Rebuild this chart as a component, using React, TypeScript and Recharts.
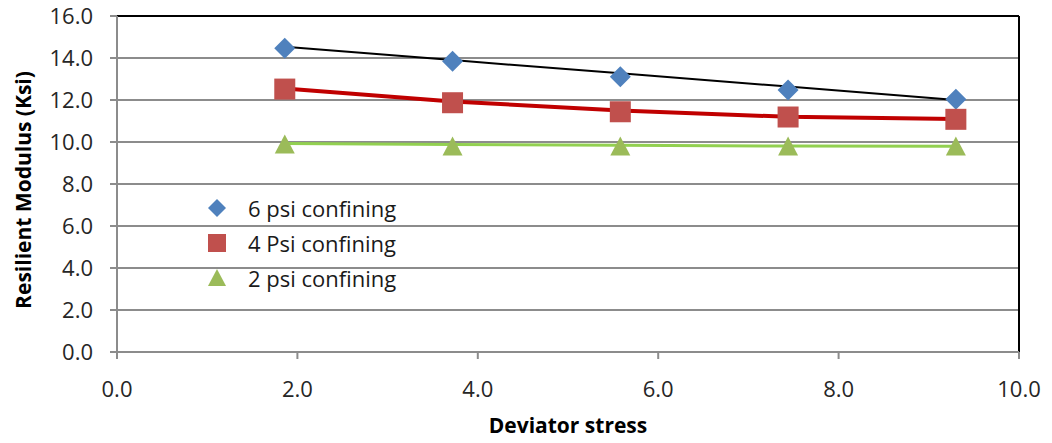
import React from "react";
import {
  ComposedChart,
  Scatter,
  Line,
  XAxis,
  YAxis,
  CartesianGrid,
  ReferenceLine,
} from "recharts";

// deviator stress (x) for every test
const stress = [1.86, 3.72, 5.58, 7.44, 9.3];

// resilient modulus (Ksi)
const psi6 = [14.46, 13.85, 13.11, 12.48, 12.03];
const psi4 = [12.52, 11.87, 11.44, 11.19, 11.08];
const psi2 = [9.88, 9.79, 9.79, 9.79, 9.79];

// trendlines as drawn in the picture
const trend6 = [14.54, 13.9, 13.27, 12.64, 12.0];
const trend4 = [12.55, 11.93, 11.5, 11.2, 11.1];
const trend2 = [9.93, 9.88, 9.84, 9.81, 9.8];

const seriesNames = ["6 psi confining", "4 Psi confining", "2 psi confining"];
const xTicks = [0, 2, 4, 6, 8, 10];
const yTicks = [0, 2, 4, 6, 8, 10, 12, 14, 16];

const toPoints = (ys: number[]) => stress.map((x, i) => ({ x, y: ys[i] }));

const FONT = "'Open Sans', sans-serif";

const Diamond = (props: any) => {
  const { cx, cy } = props;
  const r = props.r ?? 10.5;
  return (
    <polygon
      points={`${cx},${cy - r} ${cx + r},${cy} ${cx},${cy + r} ${cx - r},${cy}`}
      fill="#4F81BD"
    />
  );
};

const Square = (props: any) => {
  const { cx, cy } = props;
  const r = props.r ?? 10.5;
  return <rect x={cx - r} y={cy - r} width={r * 2} height={r * 2} fill="#C0504D" />;
};

const Triangle = (props: any) => {
  const { cx, cy } = props;
  const r = props.r ?? 10;
  return (
    <polygon
      points={`${cx},${cy - r} ${cx + r},${cy + r * 0.9} ${cx - r},${cy + r * 0.9}`}
      fill="#9BBB59"
    />
  );
};

const markers = [Diamond, Square, Triangle];

// legend sits inside the plot, on top of the grid
const LegendBox = () => (
  <div
    style={{
      position: "absolute",
      left: 205,
      top: 190,
      fontFamily: FONT,
      fontSize: 22,
      color: "#1a1a1a",
    }}
  >
    {seriesNames.map((name, i) => {
      const M = markers[i];
      return (
        <div key={name} style={{ display: "flex", alignItems: "center", height: 35 }}>
          <svg width={24} height={24}>
            <M cx={12} cy={12} r={9} />
          </svg>
          <span style={{ marginLeft: 19 }}>{name}</span>
        </div>
      );
    })}
  </div>
);

export default function App() {
  return (
    <div style={{ position: "absolute", left: 0, top: 0, width: 1052, height: 443, background: "#fff" }}>
      <ComposedChart
        width={1052}
        height={443}
        margin={{ top: 16, right: 33, bottom: 31, left: 17 }}
      >
        <CartesianGrid vertical={false} stroke="#8c8c8c" strokeWidth={2} />
        <XAxis
          type="number"
          dataKey="x"
          domain={[0, 10]}
          ticks={xTicks}
          interval={0}
          tickFormatter={(v: number) => v.toFixed(1)}
          stroke="#8c8c8c"
          strokeWidth={2}
          tickSize={7}
          tickMargin={22}
          height={60}
          tick={{ fill: "#262626", fontSize: 22, fontFamily: FONT }}
          label={{
            content: (p: any) => (
              <text
                x={p.viewBox.x + p.viewBox.width / 2}
                y={433}
                textAnchor="middle"
                style={{ fontFamily: FONT, fontWeight: 700, fontSize: 21, fill: "#000" }}
              >
                Deviator stress
              </text>
            ),
          }}
        />
        <YAxis
          type="number"
          domain={[0, 16]}
          ticks={yTicks}
          interval={0}
          tickFormatter={(v: number) => v.toFixed(1)}
          stroke="#8c8c8c"
          strokeWidth={2}
          tickSize={7}
          tickMargin={17}
          width={100}
          tick={{ fill: "#262626", fontSize: 22, fontFamily: FONT }}
          label={{
            content: (p: any) => (
              <text
                x={31}
                y={190}
                transform="rotate(-90 31 190)"
                textAnchor="middle"
                style={{ fontFamily: FONT, fontWeight: 700, fontSize: 21, fill: "#000" }}
              >
                Resilient Modulus  (Ksi)
              </text>
            ),
          }}
        />
        <ReferenceLine y={16} stroke="#000" strokeWidth={2} />
        <ReferenceLine x={10} stroke="#000" strokeWidth={2} />

        <Scatter name={seriesNames[0]} data={toPoints(psi6)} dataKey="y" shape={Diamond} isAnimationActive={false} />
        <Scatter name={seriesNames[1]} data={toPoints(psi4)} dataKey="y" shape={Square} isAnimationActive={false} />
        <Scatter name={seriesNames[2]} data={toPoints(psi2)} dataKey="y" shape={Triangle} isAnimationActive={false} />

        <Line data={toPoints(trend6)} dataKey="y" stroke="#000" strokeWidth={2} dot={false} activeDot={false} isAnimationActive={false} />
        <Line data={toPoints(trend4)} dataKey="y" stroke="#C00000" strokeWidth={4} dot={false} activeDot={false} isAnimationActive={false} />
        <Line data={toPoints(trend2)} dataKey="y" stroke="#92D050" strokeWidth={3} dot={false} activeDot={false} isAnimationActive={false} />
      </ComposedChart>
      <LegendBox />
    </div>
  );
}
